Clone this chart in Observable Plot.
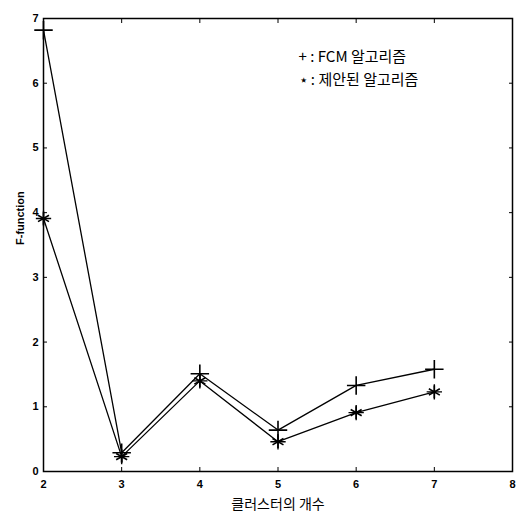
<!DOCTYPE html>
<html><head><meta charset="utf-8">
<script src="https://cdn.jsdelivr.net/npm/d3@7"></script>
<script src="https://cdn.jsdelivr.net/npm/@observablehq/plot@0.6"></script>
<style>body{margin:0;background:#fff}</style>
</head><body><div id="chart"></div>
<script>
const clusters = [2, 3, 4, 5, 6, 7];
const fcmValues = [6.82, 0.29, 1.51, 0.64, 1.33, 1.58];
const proposedValues = [3.91, 0.23, 1.40, 0.46, 0.91, 1.23];
const xTicks = [2, 3, 4, 5, 6, 7, 8];
const yTicks = [0, 1, 2, 3, 4, 5, 6, 7];
const legendLines = ["+ : FCM 알고리즘", "⋆ : 제안된 알고리즘"];
const xTitle = "클러스터의 개수";
const yTitle = "F-function";

const fcm = clusters.map((c, i) => ({x: c, y: fcmValues[i]}));
const prop = clusters.map((c, i) => ({x: c, y: proposedValues[i]}));
const font = "'Liberation Sans', Arial, sans-serif";
const kfont = "'Noto Sans CJK KR', sans-serif";

const chart = Plot.plot({
  width: 523, height: 511,
  marginLeft: 43, marginRight: 11, marginTop: 18, marginBottom: 40,
  style: {fontFamily: font, fontSize: "11px", fontWeight: "bold", color: "#000", background: "#fff"},
  x: {domain: [2, 8]},
  y: {domain: [0, 7]},
  marks: [
    Plot.frame({stroke: "#000", strokeWidth: 1.5}),
    Plot.axisX({ticks: xTicks, tickSize: -4, tickPadding: 13, label: null, tickFormat: d => String(d)}),
    Plot.axisX({anchor: "top", ticks: xTicks, tickSize: -4, label: null, tickFormat: () => ""}),
    Plot.axisY({ticks: yTicks, tickSize: -4, tickPadding: 9, label: null, tickFormat: d => String(d)}),
    Plot.axisY({anchor: "right", ticks: yTicks, tickSize: -4, label: null, tickFormat: () => ""}),
    Plot.line(fcm, {x: "x", y: "y", stroke: "#000", strokeWidth: 1.3}),
    Plot.line(prop, {x: "x", y: "y", stroke: "#000", strokeWidth: 1.3}),
    Plot.dot(fcm, {x: "x", y: "y", symbol: "plus", r: 6, stroke: "#000", strokeWidth: 1.6}),
    Plot.dot(prop, {x: "x", y: "y", symbol: "asterisk", r: 6, stroke: "#000", strokeWidth: 1.6}),
    Plot.dot(prop, {x: "x", y: "y", symbol: "plus", r: 5, stroke: "#000", strokeWidth: 1.4}),
    Plot.text([legendLines[0]], {text: d => d, frameAnchor: "top-left", textAnchor: "start", dx: 255, dy: 33, fontSize: 15, fontWeight: "normal", fontFamily: kfont, fill: "#000"}),
    Plot.text([legendLines[1]], {text: d => d, frameAnchor: "top-left", textAnchor: "start", dx: 255, dy: 56, fontSize: 15, fontWeight: "normal", fontFamily: kfont, fill: "#000"}),
    Plot.text([xTitle], {text: d => d, frameAnchor: "bottom", dy: 37, fontSize: 14, fontWeight: "normal", fontFamily: kfont, fill: "#000"}),
    Plot.text([yTitle], {text: d => d, frameAnchor: "left", dx: -23, rotate: -90, fontSize: 11, fontWeight: "bold", fill: "#000"})
  ]
});
document.getElementById("chart").appendChild(chart);
</script></body></html>
